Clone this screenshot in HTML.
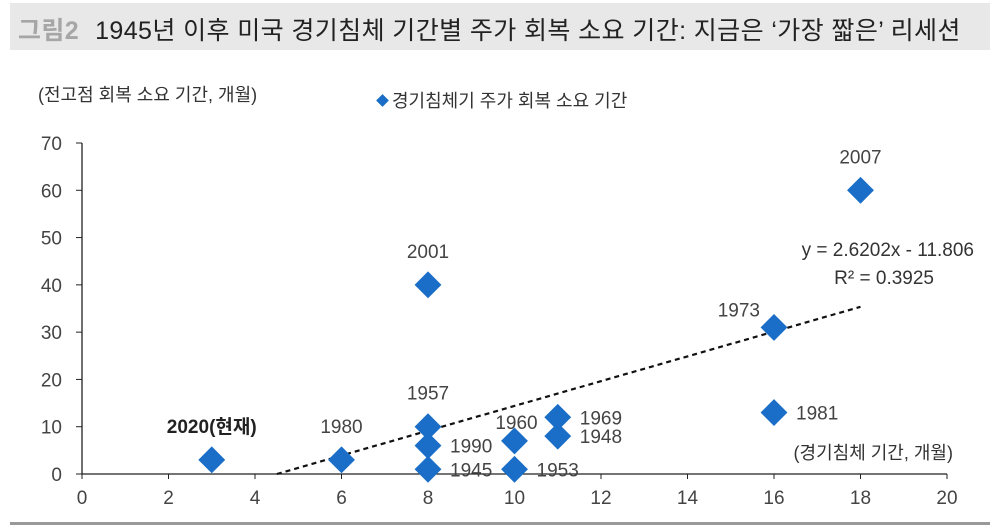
<!DOCTYPE html>
<html><head><meta charset="utf-8">
<style>
body{margin:0;width:1000px;height:527px;background:#fff;overflow:hidden;font-family:"Liberation Sans","Noto Sans CJK KR",sans-serif;}
#titlebar{position:absolute;left:10px;top:3px;width:980px;height:47px;background:#e8e8e8;}
#title{position:absolute;left:8px;top:8px;font-size:25px;color:#222;white-space:nowrap;letter-spacing:0.4px}
#title b{color:#a6a6a6;margin-right:16px}
#bottomline{position:absolute;left:10px;top:522px;width:980px;height:3px;background:#999;}
svg{position:absolute;left:0;top:0}
</style></head><body>
<div id="titlebar"><div id="title"><b>그림2</b>1945년 이후 미국 경기침체 기간별 주가 회복 소요 기간: 지금은 ‘가장 짧은’ 리세션</div></div>
<div id="bottomline"></div>
<svg id="chart" width="1000" height="527"></svg>
<script>
const xVals=[3,6,8,8,8,8,10,10,11,11,16,16,18];
const yVals=[3,3,40,10,6,1,7,1,12,8,31,13,60];
const labels=["2020(현재)","1980","2001","1957","1990","1945","1960","1953","1969","1948","1973","1981","2007"];
const labelPos=["above","above","above","above","right","right","near","right","right","right","left","right","above"];
const xTicks=[0,2,4,6,8,10,12,14,16,18,20];
const yTicks=[0,10,20,30,40,50,60,70];
const slope=2.6202, intercept=-11.806;
const svg=document.getElementById('chart');const NS='http://www.w3.org/2000/svg';
const X0=82,X1=947,Y0=474,Y1=143;
const sx=v=>X0+(v-0)/20*(X1-X0);
const sy=v=>Y0-(v-0)/70*(Y0-Y1);
function mk(t,a,txt){const e=document.createElementNS(NS,t);for(const k in a)e.setAttribute(k,a[k]);if(txt!=null)e.textContent=txt;svg.appendChild(e);return e;}
const FONT='"Liberation Sans","Noto Sans CJK KR",sans-serif';
let e=mk('line',{x1:X0,y1:Y0,x2:X1,y2:Y0,stroke:'#222','stroke-width':1.3});

e=mk('line',{x1:X0,y1:Y0,x2:X0,y2:Y1,stroke:'#222','stroke-width':1.3});

xTicks.forEach(t=>{mk('line',{x1:sx(t),y1:Y0,x2:sx(t),y2:Y0+5,stroke:'#222'});
e=mk('text',{x:sx(t),y:Y0+30,'text-anchor':'middle','font-size':19,fill:'#444','font-family':FONT},t);
});
yTicks.forEach(t=>{mk('line',{x1:X0-6,y1:sy(t),x2:X0,y2:sy(t),stroke:'#222'});
e=mk('text',{x:X0-20,y:sy(t)+7,'text-anchor':'end','font-size':19,fill:'#444','font-family':FONT},t);
});
const xs=-intercept/slope, xe=18;
e=mk('line',{x1:sx(xs),y1:sy(0),x2:sx(xe),y2:sy(slope*xe+intercept),stroke:'#111','stroke-width':2.2,'stroke-dasharray':'5,4'});

xVals.forEach((x,i)=>{const cx=sx(x),cy=sy(yVals[i]);
e=mk('rect',{x:cx-9.5,y:cy-9.5,width:19,height:19,fill:'#1a6ec8',transform:`rotate(45 ${cx} ${cy})`});

let lx,ly,anc;const p=labelPos[i];
if(p==='above'){lx=cx;ly=cy-27;anc='middle';}
else if(p==='near'){lx=cx+2;ly=cy-12;anc='middle';}
else if(p==='right'){lx=cx+22;ly=cy+7;anc='start';}
else{lx=cx-14;ly=cy-11;anc='end';}
e=mk('text',{x:lx,y:ly,'text-anchor':anc,'font-size':19,fill:i===0?'#222':'#444','font-weight':i===0?'bold':'normal','font-family':FONT},labels[i]);
});
e=mk('text',{x:38,y:101,'font-size':18,fill:'#333','font-family':FONT},'(전고점 회복 소요 기간, 개월)');

e=mk('text',{x:953,y:459,'text-anchor':'end','font-size':18,fill:'#333','font-family':FONT},'(경기침체 기간, 개월)');

e=mk('rect',{x:378,y:96,width:9,height:9,fill:'#1a6ec8',transform:'rotate(45 382.5 100.5)'});

e=mk('text',{x:392,y:107,'font-size':18,fill:'#333','font-family':FONT},'경기침체기 주가 회복 소요 기간');

e=mk('text',{x:974,y:256,'text-anchor':'end','font-size':19,fill:'#333','font-family':FONT},'y = 2.6202x - 11.806');

e=mk('text',{x:934,y:284,'text-anchor':'end','font-size':19,fill:'#333','font-family':FONT},'R² = 0.3925');

</script>
</body></html>
